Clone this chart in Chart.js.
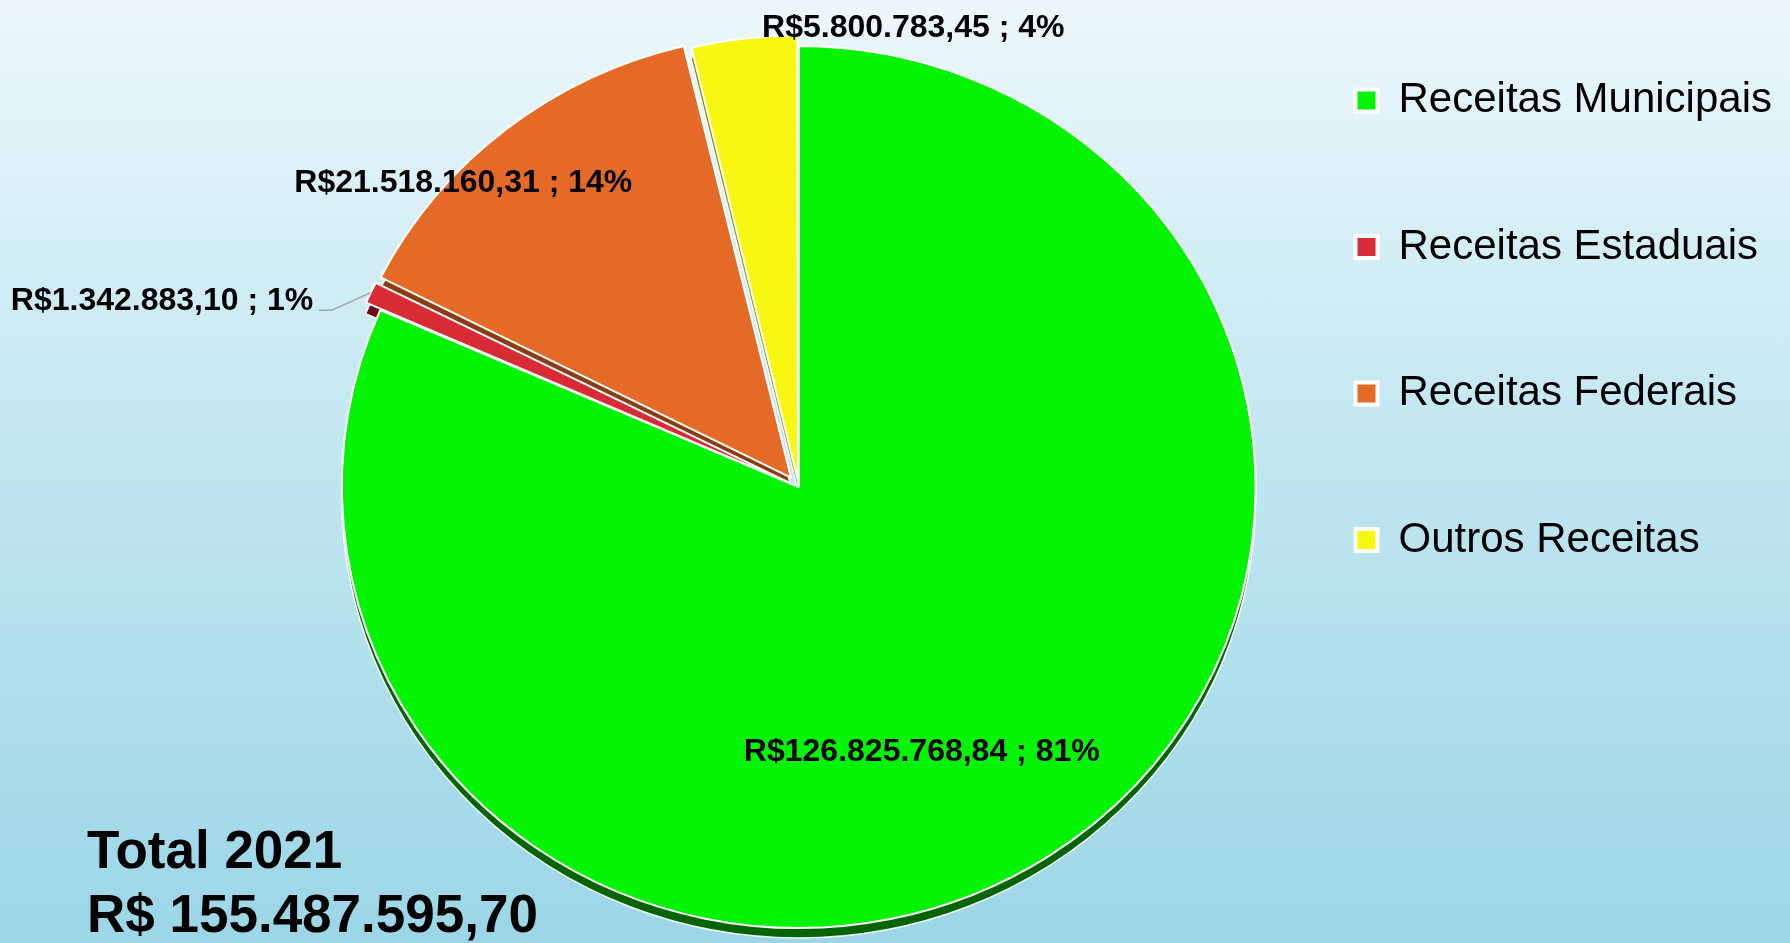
<!DOCTYPE html>
<html lang="pt-BR">
<head>
<meta charset="utf-8">
<script src="https://cdn.jsdelivr.net/npm/chart.js@4/dist/chart.umd.min.js"></script>
<style>
  html, body { margin: 0; padding: 0; }
  body {
    width: 1790px; height: 943px; overflow: hidden; position: relative;
    background: linear-gradient(to bottom, #ecf8fc 0%, #c8e9f2 40%, #9bd6e7 100%);
    font-family: "Liberation Sans", Arial, sans-serif;
  }
  #wrap { position: absolute; left: 0; top: -25px; width: 1790px; height: 968px; }
  #total {
    position: absolute; left: 87px; top: 818px;
    font-size: 53px; font-weight: bold; line-height: 64px; color: #000;
    white-space: nowrap;
  }
</style>
</head>
<body>
<div id="wrap"><canvas id="c" width="1790" height="968"></canvas></div>
<div id="total"></div>
<script>
// ---- data ----
const categories = ['Receitas Municipais', 'Receitas Estaduais', 'Receitas Federais', 'Outros Receitas'];
const values = [126825768.84, 1342883.10, 21518160.31, 5800783.45];
const percentLabels = ['81%', '1%', '14%', '4%'];
const totalYear = '2021';

// ---- style ----
const sliceColors = ['#03f305', '#d92b36', '#e66a27', '#f7f712'];
const shadeColors = ['#006400', '#6b0a12', '#8a3c12', '#8c8c00'];
const sliceOffsets = [0, 32, 48, 24];
const pieRadius = 441;
const pieStretchX = 1.036;   // slight perspective: pie drawn a bit wider than tall
const pieDepth = 10;
const labelPlacement = [
  { r: 0.64, dx: -37, dy: 29, align: 'center' },
  { leader: true, ex: -39, ey: 17.5, run: 13, gap: 5.5 },
  { r: 1, dx: -42.5, dy: 54, align: 'center' },
  { r: 1, dx: 18, dy: -10.5, align: 'left' }
];

function fmtBRL(v) {
  const parts = v.toFixed(2).split('.');
  const intPart = parts[0].replace(/\B(?=(\d{3})+(?!\d))/g, '.');
  return intPart + ',' + parts[1];
}

const total = values.reduce((a, b) => a + b, 0);
document.getElementById('total').innerHTML =
  'Total ' + totalYear + '<br>R$ ' + fmtBRL(total);

const FONT = '"Liberation Sans", Arial, sans-serif';

// geometry of an arc as Chart.js draws it (offset translation and radius bump)
function arcGeom(el) {
  const p = el.getProps(['x', 'y', 'startAngle', 'endAngle', 'outerRadius', 'circumference'], true);
  const mid = (p.startAngle + p.endAngle) / 2;
  const t = (el.options.offset || 0) / 4;
  const fix = 1 - Math.sin(Math.min(Math.PI, p.circumference || 0));
  return {
    cx: p.x + Math.cos(mid) * t,
    cy: p.y + Math.sin(mid) * t,
    R: p.outerRadius + t * fix,
    start: p.startAngle, end: p.endAngle, mid,
    ox: p.x
  };
}

const depthPlugin = {
  id: 'pieDepth',
  beforeDatasetsDraw(chart) {
    const ctx = chart.ctx;
    const meta = chart.getDatasetMeta(0);
    const el0 = meta.data[0];
    ctx.save();
    ctx.translate(el0.x, el0.y);
    ctx.scale(pieStretchX, 1);
    ctx.translate(-el0.x, -el0.y);
    meta.data.forEach((el, i) => {
      const g = arcGeom(el);
      const cy = g.cy + pieDepth;
      ctx.beginPath();
      ctx.moveTo(g.cx, cy);
      ctx.arc(g.cx, cy, g.R, g.start, g.end);
      ctx.closePath();
      ctx.fillStyle = shadeColors[i];
      ctx.fill();
      ctx.lineWidth = 1.5;
      ctx.strokeStyle = 'rgba(255,255,255,0.9)';
      ctx.stroke();
    });
  },
  afterDatasetsDraw(chart) {
    chart.ctx.restore();
  }
};

const labelPlugin = {
  id: 'sliceLabels',
  afterDatasetsDraw(chart) {
    const ctx = chart.ctx;
    const meta = chart.getDatasetMeta(0);
    ctx.save();
    ctx.font = 'bold 32px ' + FONT;
    ctx.fillStyle = '#000';
    meta.data.forEach((el, i) => {
      const g = arcGeom(el);
      const sx = (x) => g.ox + (x - g.ox) * pieStretchX;
      const text = 'R$' + fmtBRL(values[i]) + ' ; ' + percentLabels[i];
      const pl = labelPlacement[i];
      if (pl.leader) {
        const px = sx(g.cx + Math.cos(g.mid) * g.R);
        const py = g.cy + Math.sin(g.mid) * g.R;
        const ex = px + pl.ex, ey = py + pl.ey;
        const tx = ex - pl.run;
        ctx.save();
        ctx.strokeStyle = '#a6a6a6';
        ctx.lineWidth = 1.5;
        ctx.beginPath();
        ctx.moveTo(px, py);
        ctx.lineTo(ex, ey);
        ctx.lineTo(tx, ey);
        ctx.stroke();
        ctx.restore();
        ctx.textAlign = 'right';
        ctx.textBaseline = 'alphabetic';
        ctx.fillText(text, tx - pl.gap, ey);
      } else {
        const rr = g.R * pl.r;
        const x = sx(g.cx + Math.cos(g.mid) * rr) + pl.dx;
        const y = g.cy + Math.sin(g.mid) * rr + pl.dy;
        ctx.textAlign = pl.align;
        ctx.textBaseline = 'middle';
        ctx.fillText(text, x, y);
      }
    });
    ctx.restore();
  }
};

new Chart(document.getElementById('c'), {
  type: 'pie',
  data: {
    labels: categories,
    datasets: [{
      data: values,
      backgroundColor: sliceColors,
      borderColor: '#ffffff',
      borderWidth: 2,
      offset: sliceOffsets,
      radius: pieRadius,
      clip: false
    }]
  },
  options: {
    responsive: false,
    devicePixelRatio: 1,
    animation: false,
    layout: { padding: { left: 346.5, right: 8, top: 0, bottom: 0 } },
    plugins: {
      tooltip: { enabled: false },
      title: {
        display: true,
        text: ' ',
        color: 'rgba(0,0,0,0)',
        font: { size: 10 },
        padding: { top: 44, bottom: 0 }
      },
      legend: {
        position: 'right',
        align: 'start',
        labels: {
          color: '#000',
          font: { family: FONT, size: 42 },
          boxWidth: 22,
          boxHeight: 22,
          padding: 104.5,
          generateLabels(chart) {
            const items = Chart.overrides.pie.plugins.legend.labels.generateLabels(chart);
            items.forEach(it => { it.lineWidth = 4; it.strokeStyle = '#ffffff'; });
            return items;
          }
        }
      }
    }
  },
  plugins: [depthPlugin, labelPlugin]
});
</script>
</body>
</html>
